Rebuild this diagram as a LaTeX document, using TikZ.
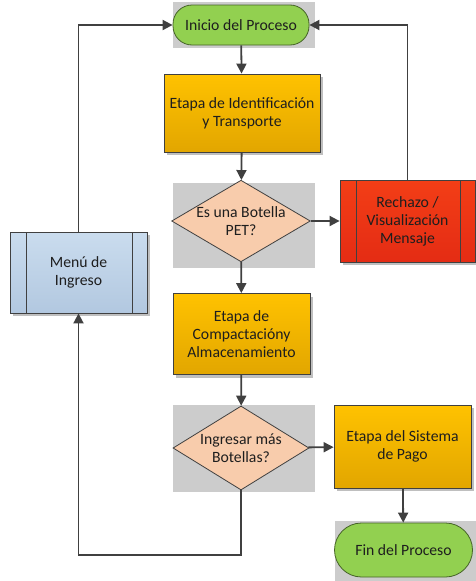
\documentclass[tikz,border=0pt]{standalone}
\usepackage{fontspec}
\setmainfont{Carlito}
\usepackage{tikz}
\usetikzlibrary{shapes,arrows.meta,positioning,shadows}
\definecolor{pasotop}{RGB}{255,194,0}
\definecolor{pasobottom}{RGB}{226,166,0}
\definecolor{iniciogreen}{RGB}{146,208,80}
\definecolor{iniciodraw}{RGB}{70,100,40}
\definecolor{decpeach}{RGB}{248,204,172}
\definecolor{rojotop}{RGB}{243,62,22}
\definecolor{rojobottom}{RGB}{228,44,20}
\definecolor{menutop}{RGB}{202,220,238}
\definecolor{menubottom}{RGB}{178,200,224}
\definecolor{selgray}{RGB}{204,204,204}
\definecolor{lineagray}{RGB}{64,64,64}
\definecolor{textodark}{RGB}{30,30,30}

\begin{document}
\begin{tikzpicture}[x=1pt, y=-1pt, font=\fontsize{15.7}{18}\selectfont, text=textodark]
    \tikzstyle{terminal} = [rectangle, rounded corners=19pt, text centered, draw=iniciodraw, fill=iniciogreen, line width=0.8pt]
    \tikzstyle{paso} = [rectangle, minimum width=137pt, minimum height=81pt, align=center, draw=lineagray, line width=0.8pt, top color=pasotop, bottom color=pasobottom, drop shadow={shadow xshift=3pt, shadow yshift=-3pt, fill=black!25, opacity=1}]
    \tikzstyle{decision} = [diamond, aspect=1.7, inner sep=0pt, minimum width=136pt, minimum height=80pt, align=center, draw=lineagray, line width=0.8pt, fill=decpeach]
    \tikzstyle{predef} = [paso, path picture={
        \draw[lineagray, line width=0.8pt] ([xshift=16pt]path picture bounding box.north west) -- ([xshift=16pt]path picture bounding box.south west);
        \draw[lineagray, line width=0.8pt] ([xshift=-15pt]path picture bounding box.north east) -- ([xshift=-15pt]path picture bounding box.south east);}]
    \tikzstyle{arrow} = [line width=1.8pt, lineagray, -{Triangle[width=10pt, length=10pt]}]

    \useasboundingbox (0,0) rectangle (476,581);

    % fondos grises
    \fill[selgray] (173,2) rectangle (315,48);
    \fill[selgray] (173,183) rectangle (315,268);
    \fill[selgray] (173,405) rectangle (315,492);
    \fill[selgray] (335,521) rectangle (476,581);

    \node (inicio) [terminal, minimum width=136pt, minimum height=40pt] at (241,25) {Inicio del Proceso};
    \node (ident) [paso, minimum width=156pt, minimum height=78pt] at (242,113) {Etapa de Identificación\\y Transporte};
    \node (botella) [decision] at (241,221) {Es una Botella\\PET?};
    \node (rechazo) [predef, minimum width=135pt, minimum height=82pt, top color=rojotop, bottom color=rojobottom] at (407.5,221) {Rechazo /\\Visualización\\Mensaje};
    \node (menu) [predef, minimum width=137pt, minimum height=81pt, top color=menutop, bottom color=menubottom] at (78.5,272.5) {Menú de\\Ingreso};
    \node (compacta) [paso] at (241.5,334) {Etapa de\\Compactacióny\\Almacenamiento};
    \node (masbotellas) [decision, minimum height=84pt] at (241,448) {Ingresar más\\Botellas?};
    \node (pago) [paso, minimum height=83pt] at (402.5,446.5) {Etapa del Sistema\\de Pago};
    \node (fin) [terminal, rounded corners=27pt, minimum width=138pt, minimum height=54pt] at (403.5,550) {Fin del Proceso};
    \coordinate (retorno) at (241,555);

    \draw [arrow] (inicio) -- (ident);
    \draw [arrow] (ident) -- (botella);
    \draw [arrow] (botella) -- (rechazo);
    \draw [arrow] (botella) -- (compacta);
    \draw [arrow] (rechazo.north) |- (inicio.east);
    \draw [arrow] (menu.north) |- (inicio.west);
    \draw [arrow] (compacta) -- (masbotellas);
    \draw [arrow] (masbotellas) -- (pago);
    \draw [arrow] (masbotellas.south) -- (retorno) -| (menu.south);
    \draw [arrow] (pago) -- (fin);
\end{tikzpicture}
\end{document}
